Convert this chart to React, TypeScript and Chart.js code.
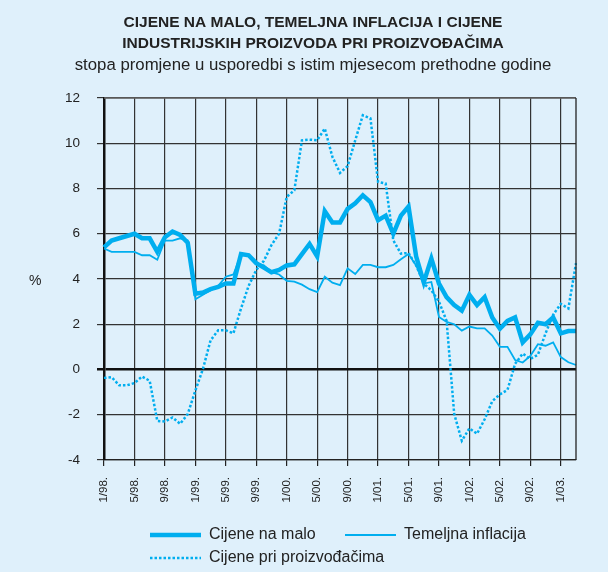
import { useEffect, useRef } from 'react';
import { Chart, registerables } from 'chart.js';

Chart.register(...registerables);

const years = ['98', '99', '00', '01', '02', '03'];
const months: string[] = [];
years.forEach((y) => {
  for (let m = 1; m <= 12; m++) months.push(`${m}/${y}.`);
});
const categories = months.slice(0, 63); // 1/98. .. 3/03.

const tickLabels = ['1/98.', '5/98.', '9/98.', '1/99.', '5/99.', '9/99.', '1/00.', '5/00.', '9/00.', '1/01.', '5/01.', '9/01.', '1/02.', '5/02.', '9/02.', '1/03.'];

const retail = [
  5.4, 5.7, 5.8, 5.9, 6.0, 5.8, 5.8, 5.2, 5.85, 6.1, 5.95, 5.6,
  3.35, 3.4, 3.55, 3.65, 3.8, 3.8, 5.1, 5.05, 4.7, 4.5, 4.3, 4.4,
  4.6, 4.65, 5.1, 5.55, 5.0, 7.0, 6.5, 6.5, 7.1, 7.35, 7.7, 7.4,
  6.6, 6.8, 6.0, 6.8, 7.2, 5.0, 3.85, 4.9, 3.8, 3.2, 2.85, 2.6,
  3.3, 2.85, 3.2, 2.3, 1.8, 2.15, 2.3, 1.2, 1.55, 2.07, 2.0, 2.3,
  1.6, 1.7, 1.7,
];

const core = [
  5.35, 5.2, 5.2, 5.2, 5.2, 5.05, 5.05, 4.85, 5.7, 5.7, 5.8, 5.7,
  3.1, 3.3, 3.5, 3.7, 4.1, 4.2, 5.1, 5.0, 4.7, 4.6, 4.3, 4.2,
  3.92, 3.88, 3.75, 3.55, 3.42, 4.1, 3.84, 3.73, 4.47, 4.22, 4.62, 4.62,
  4.52, 4.52, 4.62, 4.87, 5.1, 4.6, 3.8, 3.87, 2.32, 2.1, 2.0, 1.72,
  1.9, 1.82, 1.82, 1.5, 1.0, 1.0, 0.42, 0.31, 0.6, 1.12, 1.05, 1.2,
  0.55, 0.32, 0.2,
];

const producer = [
  -0.37, -0.34, -0.7, -0.7, -0.6, -0.31, -0.5, -2.27, -2.3, -2.12, -2.4, -1.97,
  -0.93, 0.03, 1.29, 1.73, 1.73, 1.6, 2.7, 3.7, 4.4, 4.8, 5.5, 6.0,
  7.63, 7.92, 10.13, 10.16, 10.13, 10.65, 9.4, 8.69, 8.99, 10.13, 11.24, 11.1,
  8.29, 8.22, 5.71, 5.12, 5.15, 4.6, 3.8, 3.5, 3.0, 2.15, -1.96, -3.15,
  -2.6, -2.84, -2.2, -1.4, -1.1, -0.9, 0.25, 0.7, 0.47, 0.65, 1.6, 2.42,
  2.9, 2.7, 4.7,
];

const seriesNames = ['Cijene na malo', 'Temeljna inflacija', 'Cijene pri proizvođačima'];
const titleLines = ['CIJENE NA MALO, TEMELJNA INFLACIJA I CIJENE', 'INDUSTRIJSKIH PROIZVODA PRI PROIZVOĐAČIMA'];
const subtitle = 'stopa promjene u usporedbi s istim mjesecom prethodne godine';

const COLOR = '#00aeef';
const BG = '#dff0fb';
const TEXT = '#222222';
const FONT = '"Liberation Sans", Arial, Helvetica, sans-serif';

const decor = {
  id: 'decor',
  beforeDraw(chart: any) {
    const ctx = chart.ctx;
    ctx.save();
    ctx.fillStyle = BG;
    ctx.fillRect(0, 0, chart.width, chart.height);
    ctx.restore();
  },
  afterDraw(chart: any) {
    const { ctx, chartArea: a } = chart;
    ctx.save();
    // top and right frame
    ctx.lineWidth = 1.3;
    ctx.strokeStyle = '#666';
    ctx.beginPath();
    ctx.moveTo(a.left, a.top);
    ctx.lineTo(a.right, a.top);
    ctx.stroke();
    ctx.strokeStyle = '#222';
    ctx.beginPath();
    ctx.moveTo(a.right, a.top);
    ctx.lineTo(a.right, a.bottom);
    ctx.stroke();

    // titles
    ctx.fillStyle = TEXT;
    ctx.textAlign = 'center';
    ctx.textBaseline = 'middle';
    ctx.font = `bold 15.5px ${FONT}`;
    ctx.fillText(titleLines[0], 313, 23);
    ctx.fillText(titleLines[1], 313, 44);
    ctx.font = `16.8px ${FONT}`;
    ctx.fillText(subtitle, 313, 65);

    // unit
    ctx.font = `14px ${FONT}`;
    ctx.textAlign = 'left';
    ctx.fillText('%', 29, 281);

    // legend
    const items = [
      { x: 150, y: 535, w: 4.5, dash: [] as number[], label: seriesNames[0] },
      { x: 345, y: 535, w: 1.8, dash: [] as number[], label: seriesNames[1] },
      { x: 150, y: 558, w: 2.5, dash: [2.5, 2], label: seriesNames[2] },
    ];
    items.forEach((it) => {
      ctx.strokeStyle = COLOR;
      ctx.lineWidth = it.w;
      ctx.setLineDash(it.dash);
      ctx.beginPath();
      ctx.moveTo(it.x, it.y);
      ctx.lineTo(it.x + 51, it.y);
      ctx.stroke();
      ctx.setLineDash([]);
      ctx.fillStyle = TEXT;
      ctx.font = `16px ${FONT}`;
      ctx.textAlign = 'left';
      ctx.textBaseline = 'middle';
      ctx.fillText(it.label, it.x + 59, it.y);
    });
    ctx.restore();
  },
};

export default function App() {
  const ref = useRef<HTMLCanvasElement | null>(null);

  useEffect(() => {
    document.body.style.margin = '0';
    document.body.style.background = BG;
    if (!ref.current) return;
    const chart = new Chart(ref.current, {
      type: 'line',
      data: {
        labels: categories,
        datasets: [
          {
            label: seriesNames[2],
            data: producer,
            borderColor: COLOR,
            borderWidth: 2.5,
            borderDash: [2.5, 2],
            pointRadius: 0,
            tension: 0,
            fill: false,
          },
          {
            label: seriesNames[1],
            data: core,
            borderColor: COLOR,
            borderWidth: 1.8,
            pointRadius: 0,
            tension: 0,
            fill: false,
          },
          {
            label: seriesNames[0],
            data: retail,
            borderColor: COLOR,
            borderWidth: 4.5,
            pointRadius: 0,
            tension: 0,
            fill: false,
            borderJoinStyle: 'miter',
          },
        ],
      },
      options: {
        responsive: false,
        animation: false,
        devicePixelRatio: 1,
        layout: { padding: { left: 0, right: 32, top: 98, bottom: 0 } },
        plugins: {
          legend: { display: false },
          title: { display: false },
          tooltip: { enabled: false },
        },
        scales: {
          x: {
            type: 'category',
            offset: false,
            afterFit: (s: any) => {
              s.height = 112;
            },
            grid: {
              color: '#333',
              lineWidth: 1.2,
              drawTicks: true,
              tickLength: 6,
              tickColor: '#222',
            },
            border: { display: true, color: '#222', width: 1.3 },
            ticks: {
              autoSkip: false,
              maxRotation: 90,
              minRotation: 90,
              padding: 11,
              color: TEXT,
              font: { family: FONT, size: 11.5 },
              callback: (_v: any, i: number) => {
                const l = categories[i];
                return tickLabels.includes(l) ? l : null;
              },
            },
          },
          y: {
            min: -4,
            max: 12,
            afterFit: (s: any) => {
              s.width = 104;
            },
            grid: {
              color: (c: any) => (c.tick && c.tick.value === 0 ? '#111' : '#333'),
              lineWidth: (c: any) => (c.tick && c.tick.value === 0 ? 2.5 : 1.2),
              drawTicks: true,
              tickLength: 7,
            },
            border: { display: true, color: '#111', width: 2.5 },
            ticks: {
              stepSize: 2,
              padding: 17,
              color: TEXT,
              font: { family: FONT, size: 13.5 },
            },
          },
        },
      },
      plugins: [decor],
    });
    return () => chart.destroy();
  }, []);

  return <canvas ref={ref} width={608} height={572} style={{ display: 'block' }} />;
}
